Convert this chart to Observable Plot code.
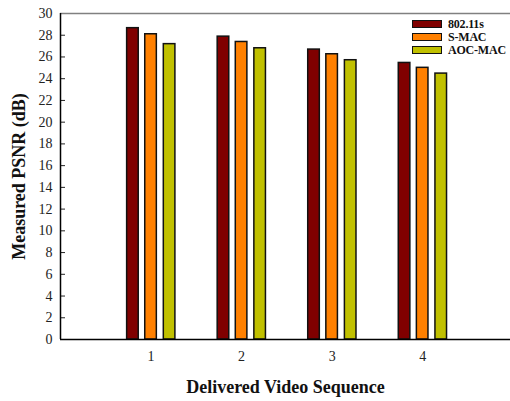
<!DOCTYPE html>
<html>
<head>
<meta charset="utf-8">
<script src="https://cdn.jsdelivr.net/npm/d3@7"></script>
<script src="https://cdn.jsdelivr.net/npm/@observablehq/plot@0.6"></script>
<style>
  html, body { margin: 0; padding: 0; background: #fff; }
  #wrap { position: relative; width: 510px; height: 401px; font-family: "Liberation Serif", "DejaVu Serif", serif; }
  #legend { position: absolute; left: 412px; top: 17px; width: 96px; font-weight: bold; font-size: 12px; line-height: 12px; color: #111; white-space: nowrap; }
  .row { display: flex; align-items: center; height: 13.3px; white-space: nowrap; }
  .sw { flex: none; width: 28px; height: 6px; border: 1.5px solid #111; margin-right: 6px; box-sizing: content-box; }
  .row span { line-height: 12px; letter-spacing: -0.2px; }
</style>
</head>
<body>
<div id="wrap"><div id="chart"></div><div id="legend"></div></div>
<script>
const sequences = [1, 2, 3, 4];
const seriesNames = ["802.11s", "S-MAC", "AOC-MAC"];
const colors = ["#800000", "#ff8000", "#c0c000"];
const v80211s = [28.65, 27.87, 26.68, 25.45];
const vSMAC   = [28.09, 27.38, 26.25, 25.0];
const vAOCMAC = [27.18, 26.8, 25.7, 24.47];
const yTicks = d3.range(0, 31, 2);

const seriesValues = [v80211s, vSMAC, vAOCMAC];
const offsets = [-0.2, 0, 0.205];
const halfW = 0.064;
const data = [];
seriesNames.forEach((s, i) => sequences.forEach((q, j) => {
  data.push({series: s, seq: q, value: seriesValues[i][j], x1: q + offsets[i] - halfW, x2: q + offsets[i] + halfW});
}));

const chart = Plot.plot({
  width: 510, height: 401,
  marginLeft: 60, marginRight: 0, marginTop: 13, marginBottom: 62,
  style: {fontFamily: "'Liberation Serif', serif", fontSize: "14px", color: "#222", background: "#fff"},
  x: {domain: [0, 4.97]},
  y: {domain: [0, 30]},
  color: {domain: seriesNames, range: colors},
  marks: [
    Plot.rectY(data, {x1: "x1", x2: "x2", y: "value", fill: "series", stroke: "#111", strokeWidth: 1.5}),
    Plot.axisY(yTicks, {tickSize: -5, tickPadding: 13, fontSize: 14, label: "Measured PSNR (dB)", labelAnchor: "center", labelArrow: "none", labelOffset: 48}),
    Plot.axisX(sequences, {tickSize: 0, tickPadding: 12, fontSize: 14, label: "Delivered Video Sequence", labelAnchor: "center", labelArrow: "none", labelOffset: 53}),
    Plot.ruleY([30], {stroke: "#808080", strokeWidth: 1.5}),
    Plot.ruleY([0], {stroke: "#000", strokeWidth: 1.5}),
    Plot.ruleX([0], {stroke: "#000", strokeWidth: 1.5})
  ]
});
d3.select(chart).selectAll("[aria-label='y-axis label'] text, [aria-label='x-axis label'] text")
  .style("font-weight", "bold").style("font-size", "18px").attr("fill", "#111");
document.getElementById("chart").appendChild(chart);

const legend = document.getElementById("legend");
seriesNames.forEach((s, i) => {
  const row = document.createElement("div"); row.className = "row";
  const sw = document.createElement("div"); sw.className = "sw"; sw.style.background = colors[i];
  const t = document.createElement("span"); t.textContent = s;
  row.appendChild(sw); row.appendChild(t); legend.appendChild(row);
});
</script>
</body>
</html>
